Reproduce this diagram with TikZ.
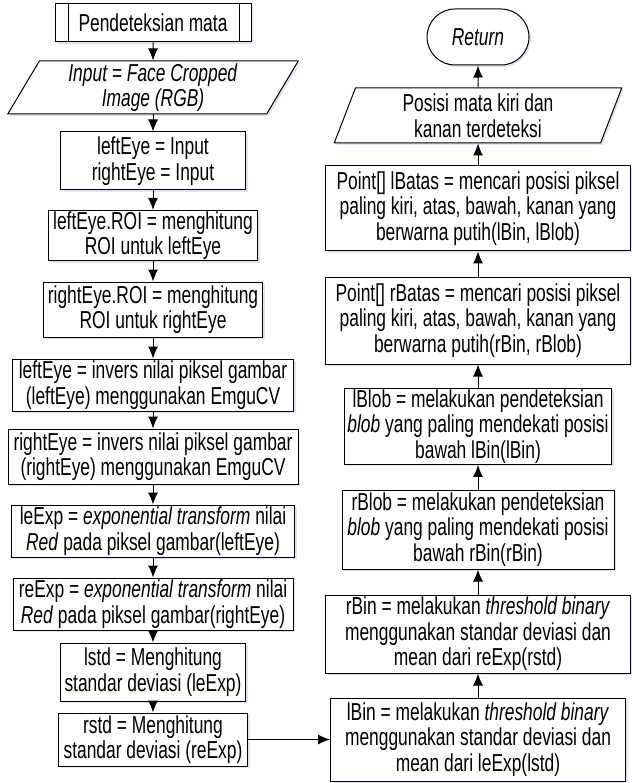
\documentclass[tikz,border=0pt]{standalone}
\usepackage{fontspec}
\setmainfont[FakeStretch=0.71]{Liberation Sans}
\usetikzlibrary{shapes.geometric,shapes.misc,arrows.meta,shadows}
\definecolor{shadowblue}{RGB}{200,212,230}

\begin{document}
\begin{tikzpicture}[x=1pt,y=-1pt,
            font=\fontsize{24.5}{25.5}\selectfont,
            >={Latex[length=12pt,width=10pt]},
            box/.style={draw,line width=1pt,fill=white,align=center,inner sep=1pt,
                drop shadow={shadow xshift=2pt,shadow yshift=-2pt,fill=shadowblue,opacity=0.6}},
            io/.style={box,trapezium,trapezium stretches=true},
            term/.style={box,rounded rectangle}]
            \useasboundingbox (0,0) rectangle (631,783);
            \node[box,minimum width=196pt,minimum height=38pt] (start) at (153,23) {Pendeteksian mata};
            \draw[line width=1pt] ([xshift=14pt]start.north west) -- ([xshift=14pt]start.south west)
                ([xshift=-12pt]start.north east) -- ([xshift=-12pt]start.south east);
            \node[io,minimum width=291pt,minimum height=53pt,trapezium left angle=64.7,trapezium right angle=115.3] (in) at (153,87.5)
                {\textit{Input = Face Cropped}\\\textit{Image (RGB)}};
            \node[box,minimum width=185pt,minimum height=58pt] (init) at (153,161) {leftEye = Input\\rightEye = Input};
            \node[box,minimum width=209pt,minimum height=49pt] (lroi) at (153,235.5) {leftEye.ROI = menghitung\\ROI untuk leftEye};
            \node[box,minimum width=219pt,minimum height=55pt] (rroi) at (153,309.5) {rightEye.ROI = menghitung\\ROI untuk rightEye};
            \node[box,minimum width=281pt,minimum height=52pt] (linv) at (153,385) {leftEye = invers nilai piksel gambar\\(leftEye) menggunakan EmguCV};
            \node[box,minimum width=290pt,minimum height=55pt] (rinv) at (153,456.5) {rightEye = invers nilai piksel gambar\\(rightEye) menggunakan EmguCV};
            \node[box,minimum width=283pt,minimum height=52pt] (lexp) at (153,531) {leExp = \textit{exponential transform} nilai\\\textit{Red} pada piksel gambar(leftEye)};
            \node[box,minimum width=280pt,minimum height=52pt] (rexp) at (153,604) {reExp = \textit{exponential transform} nilai\\\textit{Red} pada piksel gambar(rightEye)};
            \node[box,minimum width=185pt,minimum height=58pt] (lstd) at (153,672) {lstd = Menghitung\\standar deviasi (leExp)};
            \node[box,minimum width=189pt,minimum height=53pt] (rstd) at (153,739.5) {rstd = Menghitung\\standar deviasi (reExp)};
            \node[term,minimum width=104pt,minimum height=56pt] (ret) at (478,37) {\textit{Return}};
            \node[io,minimum width=288pt,minimum height=55pt,trapezium left angle=73.8,trapezium right angle=106.2] (out) at (478,115.5)
                {Posisi mata kiri dan\\kanan terdeteksi};
            \node[box,minimum width=305pt,minimum height=85pt] (lbatas) at (478,208.5) {Point[] lBatas = mencari posisi piksel\\paling kiri, atas, bawah, kanan yang\\berwarna putih(lBin, lBlob)};
            \node[box,minimum width=305pt,minimum height=87pt] (rbatas) at (478,320.5) {Point[] rBatas = mencari posisi piksel\\paling kiri, atas, bawah, kanan yang\\berwarna putih(rBin, rBlob)};
            \node[box,minimum width=267pt,minimum height=73pt] (lblob) at (478,426.5) {lBlob = melakukan pendeteksian\\\textit{blob} yang paling mendekati posisi\\bawah lBin(lBin)};
            \node[box,minimum width=272pt,minimum height=79pt] (rblob) at (478,529.5) {rBlob = melakukan pendeteksian\\\textit{blob} yang paling mendekati posisi\\bawah rBin(rBin)};
            \node[box,minimum width=305pt,minimum height=78pt] (rbin) at (478,634) {rBin = melakukan \textit{threshold binary}\\menggunakan standar deviasi dan\\mean dari reExp(rstd)};
            \node[box,minimum width=295pt,minimum height=83pt] (lbin) at (478,739.5) {lBin = melakukan \textit{threshold binary}\\menggunakan standar deviasi dan\\mean dari leExp(lstd)};
            \begin{scope}[line width=1pt]
            \draw[->] (start) -- (in);
            \draw[->] (in) -- (init);
            \draw[->] (init) -- (lroi);
            \draw[->] (lroi) -- (rroi);
            \draw[->] (rroi) -- (linv);
            \draw[->] (linv) -- (rinv);
            \draw[->] (rinv) -- (lexp);
            \draw[->] (lexp) -- (rexp);
            \draw[->] (rexp) -- (lstd);
            \draw[->] (lstd) -- (rstd);
            \draw[->] (rstd) -- (lbin);
            \draw[->] (lbin) -- (rbin);
            \draw[->] (rbin) -- (rblob);
            \draw[->] (rblob) -- (lblob);
            \draw[->] (lblob) -- (rbatas);
            \draw[->] (rbatas) -- (lbatas);
            \draw[->] (lbatas) -- (out);
            \draw[->] (out) -- (ret);
            \end{scope}
        \end{tikzpicture}
\end{document}
